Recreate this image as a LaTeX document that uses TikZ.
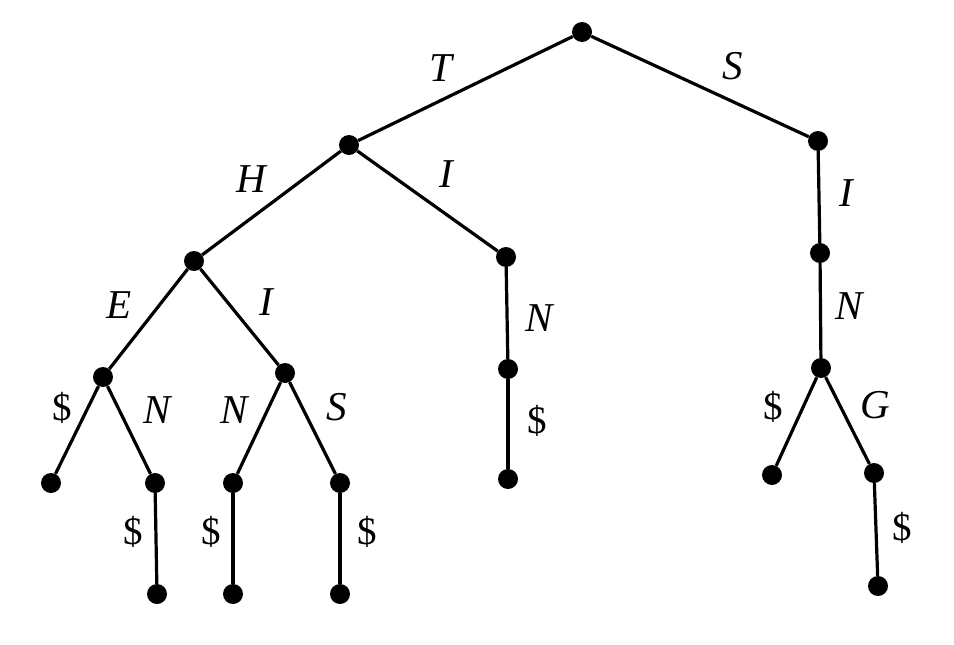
\documentclass[tikz,border=0pt]{standalone}
\usepackage{fontspec}
\setmainfont{Liberation Serif}
\begin{document}
\begin{tikzpicture}[x=1pt,y=-1pt,
  dot/.style={circle,fill=black,inner sep=0pt,minimum size=20pt},
  edge/.style={line width=3.2pt},
  lab/.style={inner sep=0pt,font=\fontsize{41}{41}\selectfont\itshape},
  dol/.style={inner sep=0pt,font=\fontsize{39}{39}\selectfont}]
\useasboundingbox (0,0) rectangle (954,645);
% nodes
\node[dot] (r) at (582,32) {};
\node[dot] (t) at (349,145) {};
\node[dot] (s) at (818,141) {};
\node[dot] (th) at (194,261) {};
\node[dot] (ti) at (506,257) {};
\node[dot] (si) at (820,253) {};
\node[dot] (the) at (103,377) {};
\node[dot] (thi) at (285,373) {};
\node[dot] (tin) at (508,369) {};
\node[dot] (sin) at (821,368) {};
\node[dot] (thed) at (51,483) {};
\node[dot] (then) at (155,483) {};
\node[dot] (thin) at (233,483) {};
\node[dot] (this) at (340,483) {};
\node[dot] (tind) at (508,479) {};
\node[dot] (sind) at (772,475) {};
\node[dot] (sing) at (874,473) {};
\node[dot] (thend) at (157,594) {};
\node[dot] (thind) at (233,594) {};
\node[dot] (thisd) at (340,594) {};
\node[dot] (singd) at (878,586) {};
% edges
\draw[edge] (r) -- (t);
\draw[edge] (r) -- (s);
\draw[edge] (t) -- (th);
\draw[edge] (t) -- (ti);
\draw[edge] (s) -- (si);
\draw[edge] (th) -- (the);
\draw[edge] (th) -- (thi);
\draw[edge] (ti) -- (tin);
\draw[edge] (si) -- (sin);
\draw[edge] (the) -- (thed);
\draw[edge] (the) -- (then);
\draw[edge] (thi) -- (thin);
\draw[edge] (thi) -- (this);
\draw[edge] (tin) -- (tind);
\draw[edge] (sin) -- (sind);
\draw[edge] (sin) -- (sing);
\draw[edge] (then) -- (thend);
\draw[edge] (thin) -- (thind);
\draw[edge] (this) -- (thisd);
\draw[edge] (sing) -- (singd);
% labels
\node[lab] (lT) at (441,68) {T};
\node[lab] (lS) at (733,66) {S};
\node[lab] (lH) at (251,179) {H};
\node[lab] (lI1) at (446,174) {I};
\node[lab] (lI2) at (846,193) {I};
\node[lab] (lE) at (119,305) {E};
\node[lab] (lI3) at (266,302) {I};
\node[lab] (lN1) at (539,318) {N};
\node[lab] (lN2) at (849,306) {N};
\node[dol] (ld1) at (62,408) {\$};
\node[lab] (lN3) at (157,410) {N};
\node[lab] (lN4) at (234,410) {N};
\node[lab] (lS2) at (337,407) {S};
\node[dol] (ld2) at (537,421) {\$};
\node[dol] (ld3) at (773,407) {\$};
\node[lab] (lG) at (875,405) {G};
\node[dol] (ld4) at (133,532) {\$};
\node[dol] (ld5) at (211,532) {\$};
\node[dol] (ld6) at (367,532) {\$};
\node[dol] (ld7) at (902,528) {\$};
\end{tikzpicture}
\end{document}
